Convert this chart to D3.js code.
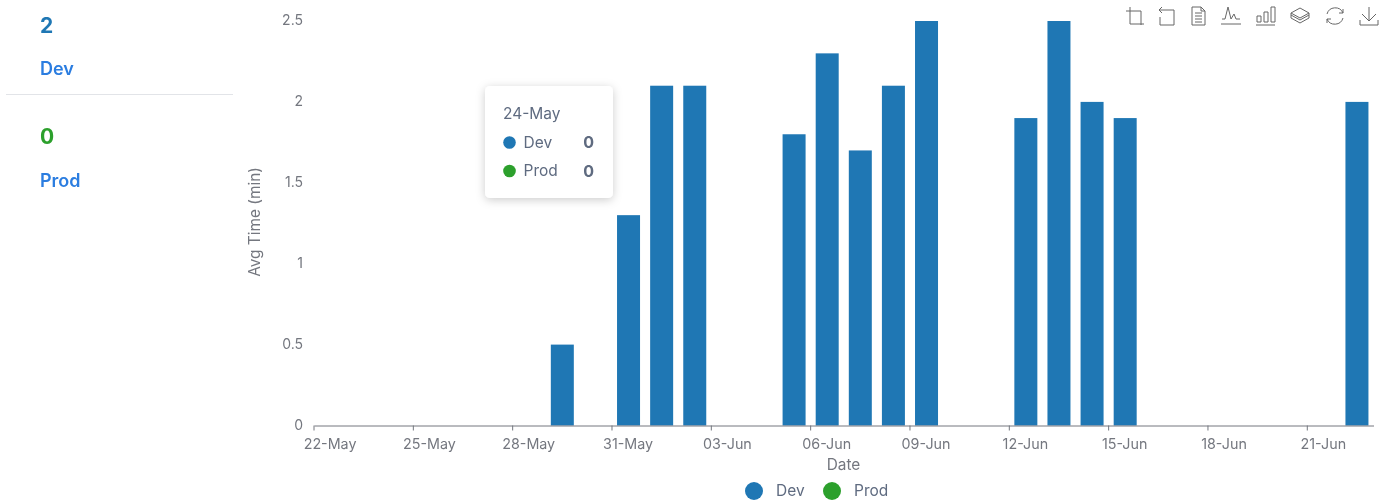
<!DOCTYPE html>
<html><head><meta charset="utf-8">
<script src="https://cdn.jsdelivr.net/npm/d3@7/dist/d3.min.js"></script>
<style>
html,body{margin:0;padding:0;background:#fff;width:1392px;height:500px;overflow:hidden}
svg{display:block;font-family:Inter,"Noto Sans",sans-serif;filter:blur(0.4px)}
</style></head><body><svg id="c" width="1392" height="500"></svg>
<script>
const days = ["22-May","23-May","24-May","25-May","26-May","27-May","28-May","29-May","30-May","31-May","01-Jun","02-Jun","03-Jun","04-Jun","05-Jun","06-Jun","07-Jun","08-Jun","09-Jun","10-Jun","11-Jun","12-Jun","13-Jun","14-Jun","15-Jun","16-Jun","17-Jun","18-Jun","19-Jun","20-Jun","21-Jun","22-Jun"];
const devValues = [0,0,0,0,0,0,0,0.5,0,1.3,2.1,2.1,0,0,1.8,2.3,1.7,2.1,2.5,0,0,1.9,2.5,2.0,1.9,0,0,0,0,0,0,2.0];
const prodValues = days.map(() => 0);
const yTicks = [0,0.5,1,1.5,2,2.5];
const seriesNames = ["Dev","Prod"];
const seriesColors = ["#1f77b4","#2ca02c"];
const summaryValues = [2,0];
const tooltipDay = "24-May";
const tooltipValues = [0,0];

const svg = d3.select("#c");
const x = d3.scaleBand().domain(days).range([314,1373.5]).paddingInner(0).paddingOuter(0);
const y = d3.scaleLinear().domain([0,2.5]).range([425.5,21]);
const grey = "#74777f", slate = "#5f6b80";

// bars
const barW = 23;
svg.append("g").selectAll("rect").data(days.map((d,i)=>({d,v:devValues[i]})).filter(o=>o.v>0))
  .join("rect")
  .attr("x",o=>x(o.d)+x.bandwidth()/2-barW/2)
  .attr("y",o=>y(o.v))
  .attr("width",barW)
  .attr("height",o=>y(0)-y(o.v))
  .attr("fill",seriesColors[0]);

// x axis: ticks at band edges, labels centred in the band
const xAxis = d3.axisBottom(x).tickValues(days.filter((d,i)=>i%3===0)).tickSize(5).tickPadding(8).tickSizeOuter(0);
const gx = svg.append("g").attr("transform","translate(0,425.5)").call(xAxis);
gx.select(".domain").attr("stroke",grey).attr("stroke-width",1);
gx.selectAll(".tick").attr("transform",d=>`translate(${x(d)},0)`);
gx.selectAll(".tick line").attr("stroke",grey);
gx.selectAll(".tick text").attr("x",x.bandwidth()/2-0.5).attr("fill",grey).attr("font-size",14.3).attr("font-family","Inter,sans-serif");

// y axis
const gy = svg.append("g").attr("transform","translate(314,-0.5)").call(d3.axisLeft(y).tickValues(yTicks).tickFormat(d3.format("~g")).tickSize(0).tickPadding(11));
gy.select(".domain").remove();
gy.selectAll("text").attr("fill",grey).attr("font-size",14).attr("font-family","Inter,sans-serif");

svg.append("text").attr("transform","translate(260,222) rotate(-90)").attr("text-anchor","middle")
  .attr("fill",grey).attr("font-size",15.4).text("Avg Time (min)");
svg.append("text").attr("x",843.5).attr("y",469.5).attr("text-anchor","middle")
  .attr("fill",grey).attr("font-size",15.4).text("Date");

// legend
const legendX = [754,832], legendLabelX = [776,854];
seriesNames.forEach((n,i)=>{
  svg.append("circle").attr("cx",legendX[i]).attr("cy",491).attr("r",9).attr("fill",seriesColors[i]);
  svg.append("text").attr("x",legendLabelX[i]).attr("y",496).attr("fill",slate).attr("font-size",15.5).text(n);
});

// left summary
const sumY = [32.5,144], labY = [74.5,186.5];
seriesNames.forEach((n,i)=>{
  svg.append("text").attr("x",40).attr("y",sumY[i]).attr("fill",seriesColors[i]).attr("font-size",21).attr("font-weight",700).text(summaryValues[i]);
  svg.append("text").attr("x",40).attr("y",labY[i]).attr("fill","#2b7de0").attr("font-size",18).attr("font-weight",600).text(n);
});
svg.append("line").attr("x1",6).attr("x2",233).attr("y1",94.5).attr("y2",94.5).attr("stroke","#e2e4e8");

// tooltip
const defs = svg.append("defs");
const f = defs.append("filter").attr("id","sh").attr("x","-30%").attr("y","-30%").attr("width","160%").attr("height","160%");
f.append("feDropShadow").attr("dx",0).attr("dy",2).attr("stdDeviation",5).attr("flood-color","#000").attr("flood-opacity",0.2);
const tt = svg.append("g");
tt.append("rect").attr("x",485).attr("y",86).attr("width",128).attr("height",112).attr("rx",5).attr("fill","#fff").attr("filter","url(#sh)");
tt.append("text").attr("x",503).attr("y",119).attr("fill",slate).attr("font-size",15.5).text(tooltipDay);
const rowY = [142.5,171];
seriesNames.forEach((n,i)=>{
  tt.append("circle").attr("cx",509.5).attr("cy",rowY[i]).attr("r",6.3).attr("fill",seriesColors[i]);
  tt.append("text").attr("x",523.5).attr("y",rowY[i]+5).attr("fill",slate).attr("font-size",15.5).text(n);
  tt.append("text").attr("x",594).attr("y",rowY[i]+5.5).attr("text-anchor","end").attr("fill",slate).attr("font-size",16).attr("font-weight",700).text(tooltipValues[i]);
});

// toolbox icons
const icons = [
 "M-9 -5H6V9 M-5 -9V8H9",
 "M-5 -9L-8 -6L-5 -3 M-8 -6H7V9H-7V1",
 "M-6 -9H3L7 -5V9H-6Z M3 -9V-5H7 M-3 -3H4 M-3 0H4 M-3 3H4 M-3 6H4",
 "M-10 8H10 M-9 3L-6 3L-3 -9L0 3L3 -2L5 3H9",
 "M-9 9H10 M-8 6V0H-4V6Z M-1 6V-4H3V6Z M6 6V-9H10V6Z",
 "M0 -8L9 -3L0 2L-9 -3Z M-9 -1L0 4L9 -1 M-9 2L0 7L9 2 M-9 -3V2 M9 -3V2",
 "M-8 -2A8.5 8.5 0 0 1 8 -3 M8 -7V-3H4 M8 2A8.5 8.5 0 0 1 -8 3 M-8 7V3H-4",
 "M0 -9V5 M-7 -2L0 5L7 -2 M-9 4V9H9V4"
];
const iconX = [1135,1167,1198,1231,1265,1300,1335,1369];
svg.append("g").selectAll("path").data(icons).join("path")
  .attr("transform",(d,i)=>`translate(${iconX[i]},16)`)
  .attr("d",d=>d).attr("fill","none").attr("stroke","#666").attr("stroke-width",1);
</script></body></html>
